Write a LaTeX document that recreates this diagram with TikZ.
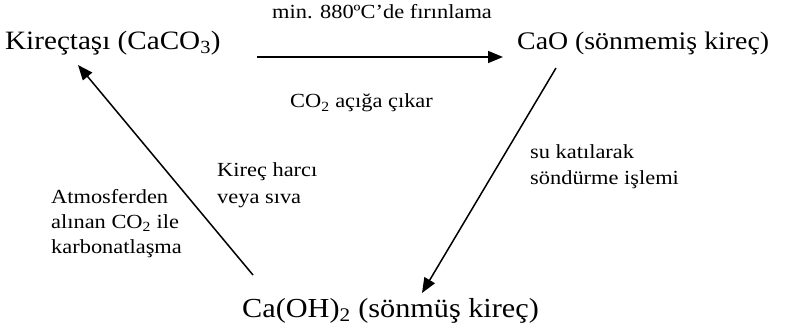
\documentclass[tikz,border=0pt]{standalone}
\usepackage{fontspec}
\setmainfont{Liberation Serif}
\newfontfamily\bigfam[FakeStretch=1.1]{Liberation Serif}
\newfontfamily\smallfam[FakeStretch=1.12]{Liberation Serif}
\usetikzlibrary{arrows.meta}
\begin{document}
\begin{tikzpicture}[x=1pt,y=-1pt,
  big/.style={font=\bigfam\fontsize{26.5}{30}\selectfont, inner sep=0pt, anchor=base west},
  small/.style={font=\smallfam\fontsize{20}{25}\selectfont, inner sep=0pt, anchor=base west, align=left},
  arr/.style={line width=1.5pt, -{Triangle[length=15pt,width=12pt]}}]
\useasboundingbox (0,0) rectangle (786,331);
\node[big] (caco3) at (5,50) {Kireçtaşı (CaCO\textsubscript{3})};
\node[big, font=\bigfam\fontsize{25.3}{30}\selectfont] (cao) at (517,50) {CaO (sönmemiş kireç)};
\node[big, font=\bigfam\fontsize{27.5}{30}\selectfont] (caoh) at (242,317) {Ca(OH)\textsubscript{2} (sönmüş kireç)};
\coordinate (a1s) at (257,57);
\coordinate (a1e) at (503,57);
\coordinate (a2s) at (556,68);
\coordinate (a2e) at (422,293);
\coordinate (a3s) at (253,275);
\coordinate (a3e) at (78,65);
\draw[arr] (a1s) -- (a1e);
\draw[arr] (a2s) -- (a2e);
\draw[arr] (a3s) -- (a3e);
\node[small] (t1) at (272,19) {min. 880ºC’de fırınlama};
\node[small] (t2) at (290,108) {CO\textsubscript{2} açığa çıkar};
\node[small, font=\smallfam\fontsize{20}{27}\selectfont] (t3) at (217,203) {Kireç harcı\\veya sıva};
\node[small] (t4) at (51,253) {Atmosferden\\alınan CO\textsubscript{2} ile\\karbonatlaşma};
\node[small] (t5) at (530,184) {su katılarak\\söndürme işlemi};
\end{tikzpicture}
\end{document}
